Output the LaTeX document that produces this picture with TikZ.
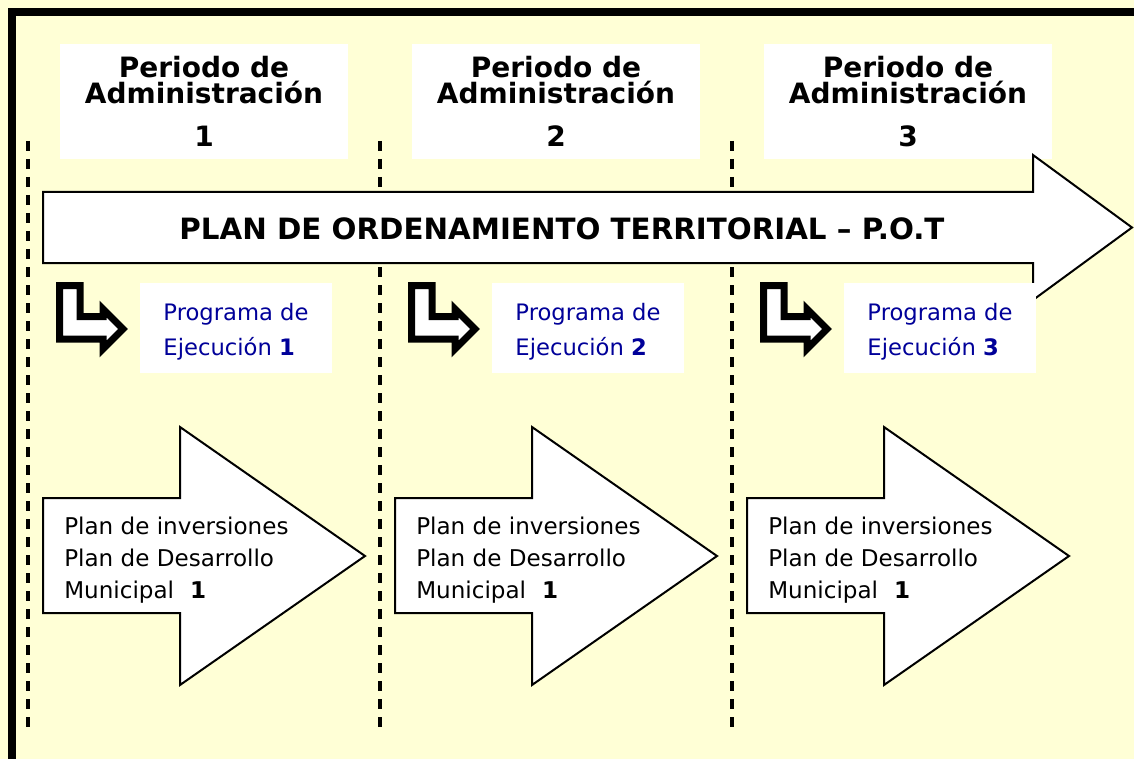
\documentclass[tikz,border=0pt]{standalone}
\usepackage{fontspec}
\setmainfont{DejaVu Sans}
\usepackage{tikz}

\definecolor{fondo}{HTML}{FFFFD6}
\definecolor{azul}{HTML}{000099}

\tikzset{
    periodo/.style={fill=white, minimum width=216pt, minimum height=86.25pt, inner sep=0pt, align=center, font=\bfseries\fontsize{21}{19.5}\selectfont},
    programa/.style={fill=white, minimum width=144pt, minimum height=67.5pt, inner sep=0pt, align=left, text=azul, font=\fontsize{17}{26}\selectfont},
    flecha/.style={draw=black, fill=white, line width=1.5pt, line join=miter},
    giro/.style={draw=black, fill=white, line width=5.25pt, line join=miter},
    plan/.style={anchor=west, inner sep=0pt, align=left, font=\fontsize{17.3}{24}\selectfont},
    limite/.style={dash pattern=on 7.5pt off 6pt, line width=2.3pt}
}

\begin{document}
\begin{tikzpicture}[x=0.75pt, y=-0.75pt]
    \useasboundingbox (0,0) rectangle (1134,759);
    \fill[fondo] (0,0) rectangle (1134,759);
    \draw[line width=6pt, line join=miter] (12,775) -- (12,12) -- (1150,12);

    % limites de los periodos
    \draw[limite] (28,141) -- (28,730);
    \draw[limite] (380,141) -- (380,730);
    \draw[limite] (732,141) -- (732,730);

    \node[periodo] (adm1) at (204,101.5) {Periodo de\\Administración\\[12.75pt]1};
    \node[periodo] (adm2) at (556,101.5) {Periodo de\\Administración\\[12.75pt]2};
    \node[periodo] (adm3) at (908,101.5) {Periodo de\\Administración\\[12.75pt]3};

    % flecha del P.O.T
    \draw[flecha] (43,192) -- (1033,192) -- (1033,155) -- (1132,227.5) -- (1033,300) -- (1033,263) -- (43,263) -- cycle;
    \node[font=\bfseries\fontsize{22}{22}\selectfont] (pot) at (562,229) {PLAN DE ORDENAMIENTO TERRITORIAL – P.O.T};

    \draw[giro] (59.5,285.5) -- (80,285.5) -- (80,316.5) -- (103,316.5) -- (103,309) -- (123,329) -- (103,349) -- (103,339) -- (59.5,339) -- cycle;
    \draw[giro] (411.5,285.5) -- (432,285.5) -- (432,316.5) -- (455,316.5) -- (455,309) -- (475,329) -- (455,349) -- (455,339) -- (411.5,339) -- cycle;
    \draw[giro] (763.5,285.5) -- (784,285.5) -- (784,316.5) -- (807,316.5) -- (807,309) -- (827,329) -- (807,349) -- (807,339) -- (763.5,339) -- cycle;

    \node[programa] (prog1) at (236,328) {\strut Programa de\\Ejecución \textbf{1}};
    \node[programa] (prog2) at (588,328) {\strut Programa de\\Ejecución \textbf{2}};
    \node[programa] (prog3) at (940,328) {\strut Programa de\\Ejecución \textbf{3}};

    % planes de inversiones
    \draw[flecha] (43,498) -- (180,498) -- (180,427) -- (365,556) -- (180,685) -- (180,613) -- (43,613) -- cycle;
    \draw[flecha] (395,498) -- (532,498) -- (532,427) -- (717,556) -- (532,685) -- (532,613) -- (395,613) -- cycle;
    \draw[flecha] (747,498) -- (884,498) -- (884,427) -- (1069,556) -- (884,685) -- (884,613) -- (747,613) -- cycle;
    \node[plan] (inv1) at (64,560.5) {Plan de inversiones\\Plan de Desarrollo\\Municipal\hspace{12pt}\textbf{1}};
    \node[plan] (inv2) at (416,560.5) {Plan de inversiones\\Plan de Desarrollo\\Municipal\hspace{12pt}\textbf{1}};
    \node[plan] (inv3) at (768,560.5) {Plan de inversiones\\Plan de Desarrollo\\Municipal\hspace{12pt}\textbf{1}};
\end{tikzpicture}
\end{document}
